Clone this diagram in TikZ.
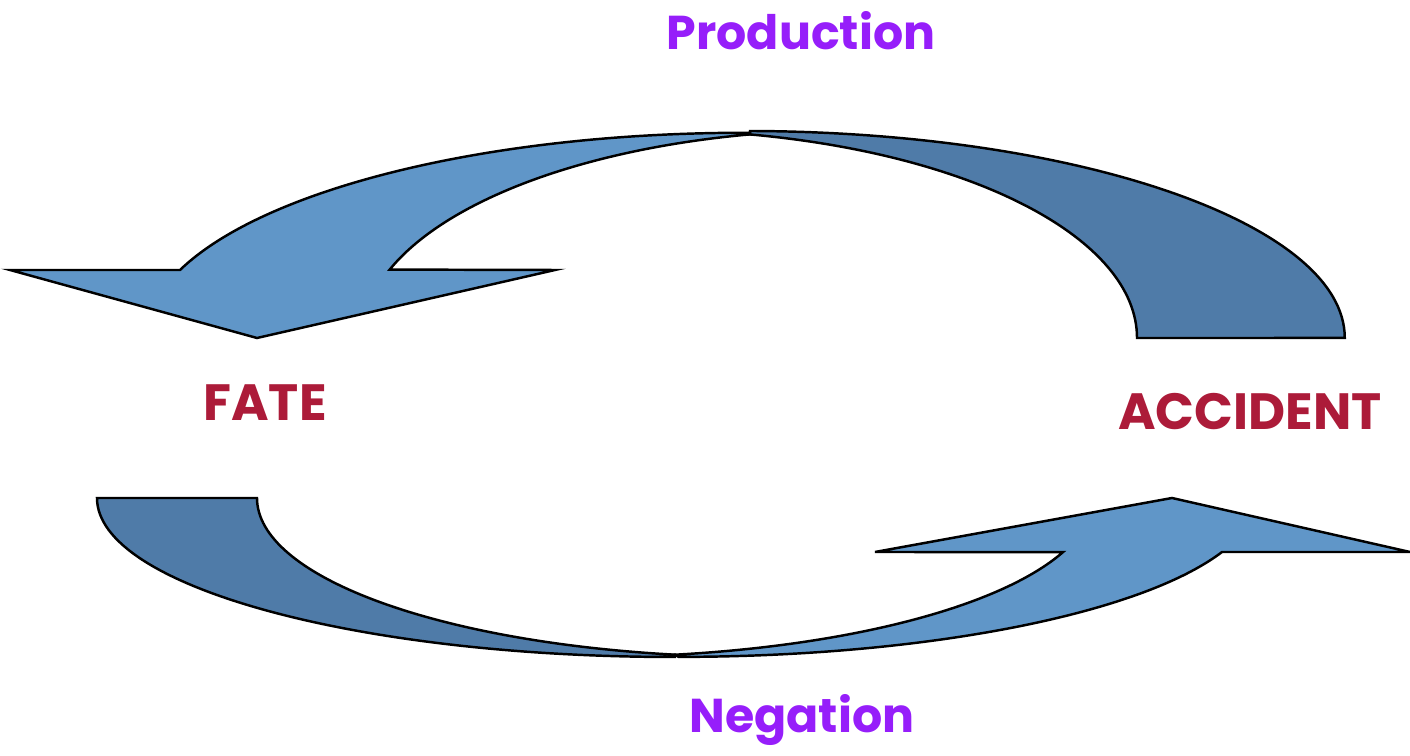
\documentclass[tikz,border=0pt]{standalone}
\usepackage{fontspec}
\newfontfamily\comicfont{Poppins}
\definecolor{lightblue}{RGB}{96,150,200}
\definecolor{darkblue}{RGB}{79,123,168}
\definecolor{labelpurple}{RGB}{150,30,250}
\definecolor{labelred}{RGB}{172,27,57}

\begin{document}
\begin{tikzpicture}[x=0.01cm, y=0.01cm,
  front/.style={fill=lightblue, draw=black, line width=0.7pt},
  back/.style={fill=darkblue, draw=black, line width=0.7pt},
  title/.style={text=labelpurple, font=\comicfont\bfseries\fontsize{13.5}{16}\selectfont},
  pole/.style={text=labelred, font=\comicfont\bfseries\fontsize{14.5}{17}\selectfont}]

\useasboundingbox (0,0) rectangle (1410,755);

% Upper arrow: shaded back first, then the front with its head
\draw[back] (1137,417) arc[start angle=0, end angle=78.2, x radius=487, y radius=208]
  -- (750,624) arc[start angle=89.5, end angle=0, x radius=600, y radius=207] -- cycle;
\draw[front] (750,620.6) arc[start angle=101.8, end angle=160.8, x radius=487, y radius=208]
  -- (555,485) -- (257,417) -- (10,485) -- (180,485)
  arc[start angle=160.3, end angle=89.5, x radius=600, y radius=207] -- cycle;

% Lower arrow
\draw[back] (97,257) arc[start angle=180, end angle=270, x radius=578, y radius=159]
  -- (675,100.3) arc[start angle=260.27, end angle=180, x radius=503, y radius=159] -- cycle;
\draw[front] (675,100.3) arc[start angle=279.73, end angle=340.1, x radius=503, y radius=159]
  -- (875,203) -- (1172,257) -- (1410,203) -- (1222,203)
  arc[start angle=340.1, end angle=270, x radius=578, y radius=159] -- cycle;

% Labels
\node[title] (prod) at (801,724) {Production};
\node[title] (neg) at (802,35) {Negation};
\node[pole] (fate) at (265,352) {FATE};
\node[pole] (accident) at (1250,343) {ACCIDENT};

\end{tikzpicture}
\end{document}
